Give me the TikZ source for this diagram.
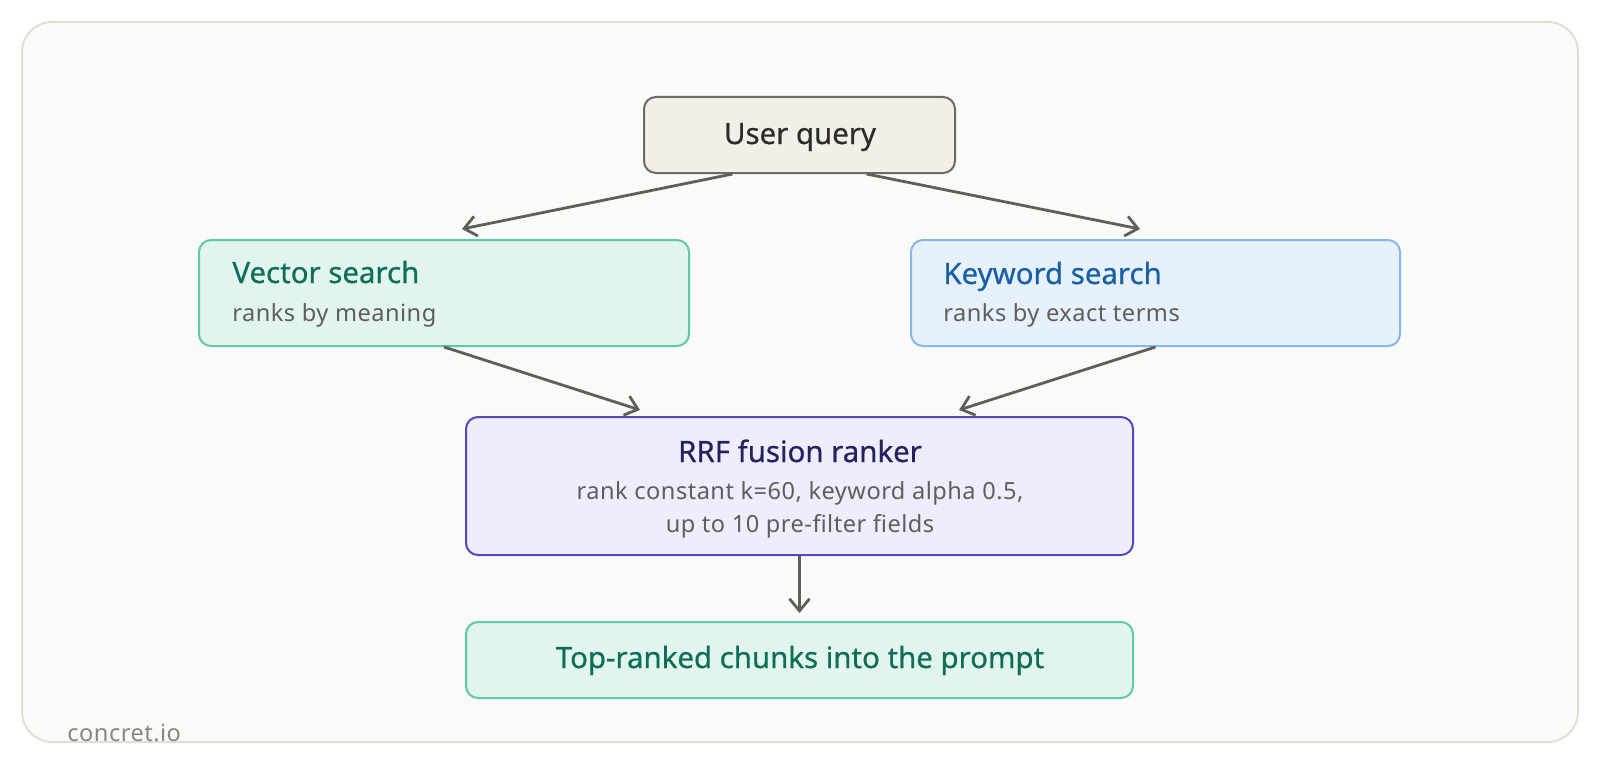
\documentclass[tikz,border=0pt]{standalone}
\usepackage{fontspec}
\setmainfont{Noto Sans}
\newfontfamily\titlefont[FakeBold=0.6]{Noto Sans}
\newfontfamily\subfont[LetterSpace=2]{Noto Sans}
\usetikzlibrary{arrows.meta}
\definecolor{bgfill}{HTML}{FAFAF8}
\definecolor{bgline}{HTML}{E2DFD8}
\definecolor{uqfill}{HTML}{F1EFE8}
\definecolor{uqline}{HTML}{6B6A65}
\definecolor{uqtext}{HTML}{2C2C2A}
\definecolor{gfill}{HTML}{E1F5EE}
\definecolor{gline}{HTML}{5DCAA5}
\definecolor{gtext}{HTML}{0F6E56}
\definecolor{bfill}{HTML}{E6F1FB}
\definecolor{bline}{HTML}{85B7EB}
\definecolor{btext}{HTML}{185FA5}
\definecolor{pfill}{HTML}{EEEDFE}
\definecolor{pline}{HTML}{534AB7}
\definecolor{ptext}{HTML}{26215C}
\definecolor{subtext}{HTML}{5F5E5A}
\definecolor{arrowc}{HTML}{5F5E5A}
\definecolor{marktext}{HTML}{888780}
\tikzset{
  card/.style={draw, rounded corners=6pt, line width=1pt, inner sep=0pt},
  ttl/.style={font=\titlefont\fontsize{14.7}{17}\selectfont, inner sep=0pt},
  sub/.style={font=\subfont\fontsize{11.8}{15}\selectfont, text=subtext, inner sep=0pt},
  conn/.style={draw=arrowc, line width=1.4pt, -{Straight Barb[length=6pt,width=10pt,line width=1.4pt]}},
}
\begin{document}
\begin{tikzpicture}[x=0.5pt,y=-0.5pt]
\useasboundingbox (0,0) rectangle (1600,765);
\path[fill=bgfill, draw=bgline, line width=1pt, rounded corners=15pt] (22,22) rectangle (1578,742);
\node[card, fill=uqfill, draw=uqline, minimum width=155.5pt, minimum height=38pt] (uq) at (799.5,135) {};
\node[card, fill=gfill, draw=gline, minimum width=245pt, minimum height=53pt] (vs) at (444,293) {};
\node[card, fill=bfill, draw=bline, minimum width=244.5pt, minimum height=53pt] (ks) at (1155.5,293) {};
\node[card, fill=pfill, draw=pline, minimum width=333.5pt, minimum height=69pt] (rrf) at (799.5,486) {};
\node[card, fill=gfill, draw=gline, minimum width=333.5pt, minimum height=38pt] (top) at (799.5,660) {};
\node[ttl, text=uqtext, anchor=base] (uqt) at (800,144) {User query};
\node[ttl, text=gtext, anchor=base west] (vst) at (232,283) {Vector search};
\node[sub, anchor=base west] (vss) at (232,321) {ranks by meaning};
\node[ttl, text=btext, anchor=base west] (kst) at (943,284) {Keyword search};
\node[sub, anchor=base west] (kss) at (943,321) {ranks by exact terms};
\node[ttl, text=ptext, anchor=base] (rrft) at (800,462) {RRF fusion ranker};
\node[sub, anchor=base] (rrfs1) at (800,499) {rank constant k=60, keyword alpha 0.5,};
\node[sub, anchor=base] (rrfs2) at (800,532) {up to 10 pre-filter fields};
\node[ttl, text=gtext, anchor=base] (topt) at (800,668) {Top-ranked chunks into the prompt};
\node[font=\subfont\fontsize{11.8}{13}\selectfont, text=marktext, anchor=base west, inner sep=0pt] (mark) at (67,741) {concret.io};
\draw[conn] ([xshift=-33.5pt]uq.south) -- ([xshift=9pt,yshift=5pt]vs.north);
\draw[conn] ([xshift=33.5pt]uq.south) -- ([xshift=-7.75pt,yshift=5pt]ks.north);
\draw[conn] (vs.south) -- ([xshift=-79.75pt,yshift=3pt]rrf.north);
\draw[conn] (ks.south) -- ([xshift=79.75pt,yshift=3pt]rrf.north);
\draw[conn] (rrf.south) -- ([yshift=4pt]top.north);
\end{tikzpicture}
\end{document}
